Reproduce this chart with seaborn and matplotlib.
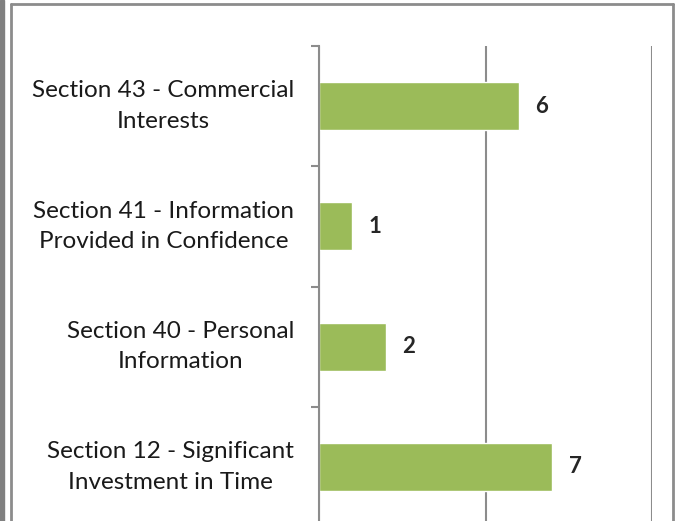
"""Horizontal bar chart of exemptions cited, by section."""

import matplotlib
matplotlib.use("Agg")
import matplotlib.pyplot as plt
from matplotlib.patches import Rectangle
from matplotlib.lines import Line2D
import pandas as pd
import seaborn as sns

SECTIONS = [
    "Section 43 - Commercial\nInterests",
    "Section 41 - Information\nProvided in Confidence",
    "Section 40 - Personal\nInformation",
    "Section 12 - Significant\nInvestment in Time",
]
COUNTS = [6, 1, 2, 7]

BAR = "#9BBB59"
GRID = "#8C8C8C"

W, H = 678, 521


def main():
    sns.set_style("white")
    plt.rcParams["font.family"] = ["Lato", "DejaVu Sans"]

    df = pd.DataFrame({"section": SECTIONS, "count": COUNTS})

    fig = plt.figure(figsize=(W / 100, H / 100), dpi=100)
    # axes: x from 319 to 652 px, y top 46 px, spans 4 rows of ~120 px
    left, right, top, bottom = 319, 652, 46, 527
    ax = fig.add_axes([left / W, (H - bottom) / H,
                       (right - left) / W, (bottom - top) / H])

    sns.barplot(data=df, y="section", x="count", orient="h", color=BAR,
                width=0.4, saturation=1, ax=ax)

    ax.set_xlim(0, 10)
    ax.set_xticks([0, 5, 10])
    ax.set_xticklabels([])
    ax.tick_params(axis="x", length=0)
    ax.xaxis.grid(True, color=GRID, linewidth=1.5)
    ax.set_axisbelow(True)
    ax.set_xlabel("")
    ax.set_ylabel("")

    ax.set_yticks([i - 0.5 for i in range(len(SECTIONS) + 1)], minor=True)
    ax.set_ylim(len(SECTIONS) - 0.5, -0.5)
    ax.tick_params(axis="y", which="minor", left=True, length=6, width=1.5,
                   color=GRID, direction="out")
    ax.tick_params(axis="y", which="major", length=0, pad=18)
    for lbl in ax.get_yticklabels():
        lbl.set_fontsize(17.5)
        lbl.set_linespacing(1.55)
        lbl.set_multialignment("center")
        lbl.set_verticalalignment("center")
        lbl.set_color("#1a1a1a")

    for s in ["top", "right", "bottom"]:
        ax.spines[s].set_visible(False)
    ax.spines["left"].set_color(GRID)
    ax.spines["left"].set_linewidth(1.5)

    for i, v in enumerate(COUNTS):
        ax.annotate(str(v), (v, i), xytext=(12, 0), textcoords="offset points",
                    ha="left", va="center", fontsize=16, fontweight="bold")

    # outer chart frame and page strip
    fig.patches.append(Rectangle((0, 0), 4 / W, 1, transform=fig.transFigure,
                                 color="#808080", zorder=0))
    for xs, ys in [((11, 11), (530, 4)), ((11, 673), (4, 4)), ((673, 673), (4, 530))]:
        fig.lines.append(Line2D([x / W for x in xs], [(H - y) / H for y in ys],
                                transform=fig.transFigure, color="#8C8C8C",
                                linewidth=2))

    fig.savefig("out.png", dpi=100)
    plt.close(fig)


if __name__ == "__main__":
    main()
